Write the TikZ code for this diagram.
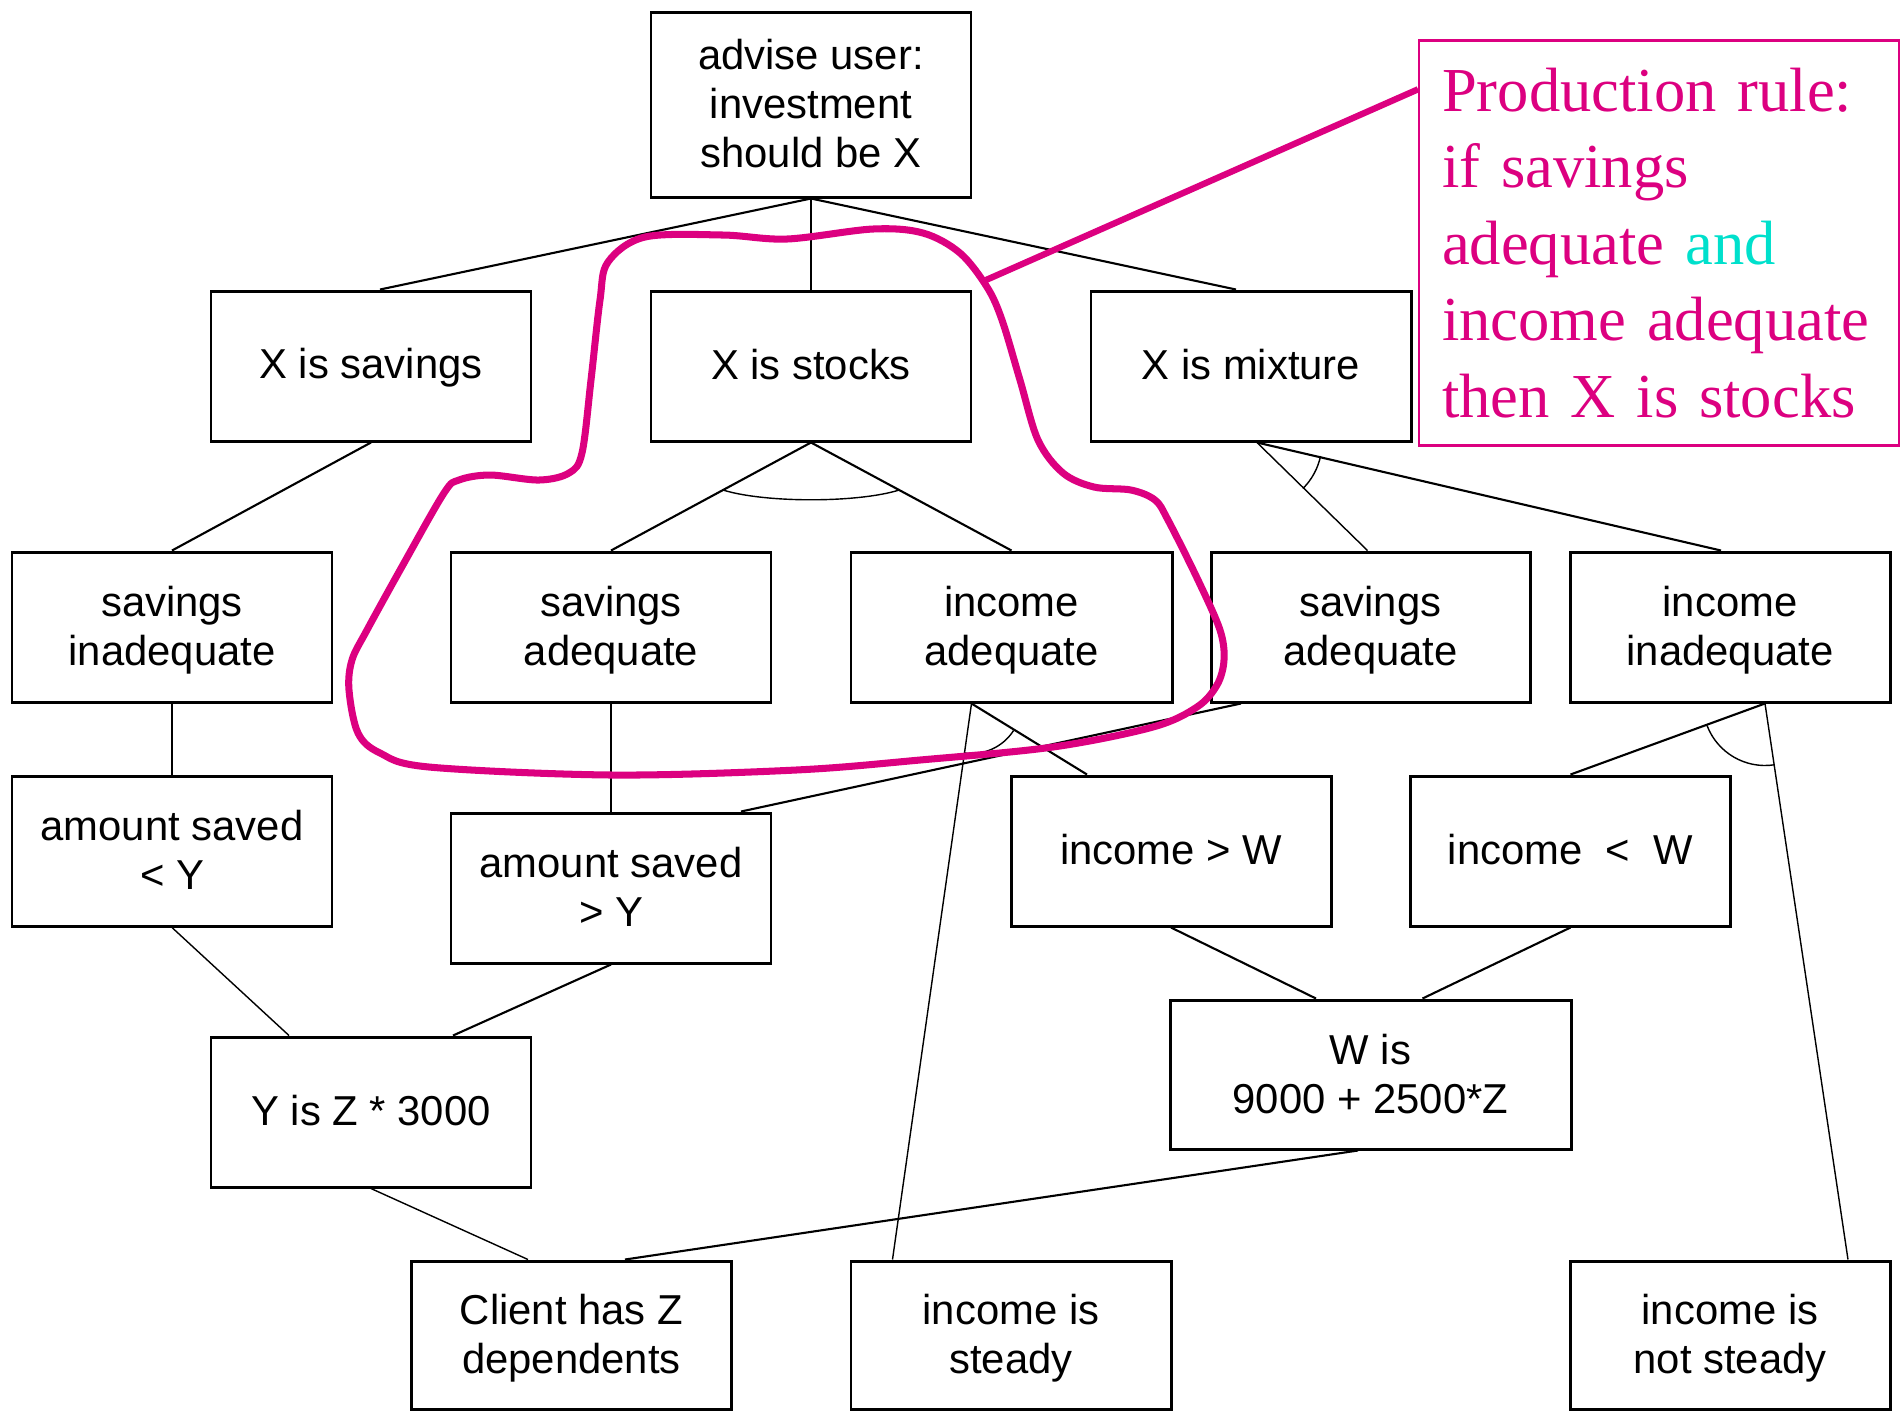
\documentclass[tikz,border=0pt]{standalone}
\usepackage{fontspec}
\setmainfont{Liberation Sans}
\newfontfamily\rulefont{Liberation Serif}
\usetikzlibrary{calc}
\definecolor{lasso}{RGB}{220,0,128}
\definecolor{andcol}{RGB}{0,224,204}
\newcommand{\topstrut}{\rule{0pt}{10.5pt}}
\begin{document}
\begin{tikzpicture}[
  box/.style={draw, line width=0.85pt, minimum width=3.2cm, minimum height=1.5cm,
    inner sep=0pt, align=center, font=\fontsize{11.9}{14}\selectfont,
    execute at begin node={\rule{0pt}{9.8pt}},
    execute at end node={\rule[-2.4pt]{0pt}{0pt}}},
  conn/.style={line width=0.6pt},
  thinconn/.style={line width=0.4pt},
  lassoline/.style={draw=lasso, line width=2pt},
]
\fill[white] (0,0) rectangle (19.04,-14.10);
\useasboundingbox (0,0) rectangle (19.04,-14.10);

% nodes
\node[box, minimum height=1.85cm] (adv) at (8.11,-1.045) {\topstrut advise user:\\investment\\should be X};
\node[box] (xsav) at (3.71,-3.66) {X is savings};
\node[box] (xsto) at (8.11,-3.66) {X is stocks};
\node[box] (xmix) at (12.51,-3.66) {X is mixture};
\node[box] (sinad) at (1.72,-6.27) {\topstrut savings\\inadequate};
\node[box] (sad1) at (6.11,-6.27) {\topstrut savings\\adequate};
\node[box, minimum width=3.21cm] (iad) at (10.115,-6.27) {\topstrut income\\adequate};
\node[box, minimum width=3.19cm] (sad2) at (13.705,-6.27) {\topstrut savings\\adequate};
\node[box] (iinad) at (17.30,-6.27) {\topstrut income\\inadequate};
\node[box] (amlt) at (1.72,-8.51) {\topstrut amount saved\\< Y};
\node[box] (amgt) at (6.11,-8.88) {\topstrut amount saved\\> Y};
\node[box] (igt) at (11.71,-8.51) {income > W};
\node[box] (ilt) at (15.705,-8.51) {income\ \ <\ \ W};
\node[box, minimum width=4.01cm, minimum height=1.49cm] (wis) at (13.705,-10.745) {\topstrut W is\\9000 + 2500*Z};
\node[box] (yis) at (3.71,-11.12) {Y is Z * 3000};
\node[box, minimum height=1.48cm] (cli) at (5.715,-13.35) {\topstrut Client has Z\\dependents};
\node[box, minimum height=1.48cm] (ist) at (10.11,-13.35) {\topstrut income is\\steady};
\node[box, minimum height=1.48cm] (inst) at (17.30,-13.35) {\topstrut income is\\not steady};

\node[draw=lasso, line width=0.65pt, minimum width=4.8cm, minimum height=4.05cm,
  text width=4.34cm, align=left, inner sep=0pt, anchor=north west, text=lasso,
  font=\rulefont\fontsize{17.8}{21.8}\selectfont] (rule) at (14.18,-0.393)
  {Production rule:\\if savings\\adequate \textcolor{andcol}{and}\\income adequate\\then X is stocks};

% connectors
\draw[conn] (adv.south) -- ($(xsav.north)+(0.09,0)$);
\draw[conn] (adv.south) -- (xsto.north);
\draw[conn] (adv.south) -- ($(xmix.north)+(-0.15,0)$);
\draw[conn] (xsav.south) -- (sinad.north);
\draw[conn] (xsto.south) -- (sad1.north);
\draw[conn] (xsto.south) -- (iad.north);
\coordinate (sa1) at ($(xsto.south)!0.44!(sad1.north)$);
\coordinate (sa2) at ($(xsto.south)!0.44!(iad.north)$);
\draw[thinconn] (sa1) .. controls +(0.42,-0.13) and +(-0.42,-0.13) .. (sa2);

\coordinate (mixa) at ($(xmix.south)+(0.06,0)$);
\draw[thinconn] (mixa) -- ($(sad2.north)+(-0.03,0)$);
\draw[conn] (mixa) -- ($(iinad.north)+(-0.09,0)$);
\draw[thinconn] ([shift={(-45:0.65)}]mixa) arc[start angle=-45, end angle=-12, radius=0.65];

\draw[conn] (sinad.south) -- (amlt.north);
\draw[conn] (sad1.south) -- (amgt.north);

\coordinate (iada) at ($(iad.south)+(-0.4,0)$);
\draw[thinconn] (iada) -- ($(ist.north)+(-1.185,0)$);
\draw[conn] (iada) -- ($(igt.north)+(-0.84,0)$);
\draw[thinconn] ([shift={(-98.1:0.5)}]iada) arc[start angle=-98.1, end angle=-32.7, radius=0.5];

\draw[conn] ($(sad2.south)+(-1.295,0)$) -- ($(amgt.north)+(1.3,0)$);

\coordinate (iina) at ($(iinad.south)+(0.35,0)$);
\draw[conn] (iina) -- (ilt.north);
\draw[thinconn] (iina) -- ($(inst.north)+(1.18,0)$);
\draw[thinconn] ([shift={(-159.2:0.62)}]iina) arc[start angle=-159.2, end angle=-81.5, radius=0.62];

\draw[thinconn] (amlt.south) -- ($(yis.north)+(-0.82,0)$);
\draw[conn] (amgt.south) -- ($(yis.north)+(0.82,0)$);
\draw[conn] (igt.south) -- ($(wis.north)+(-0.545,0)$);
\draw[conn] (ilt.south) -- ($(wis.north)+(0.52,0)$);
\draw[thinconn] (yis.south) -- ($(cli.north)+(-0.435,0)$);
\draw[conn] ($(wis.south)+(-0.125,0)$) -- ($(cli.north)+(0.535,0)$);

% lasso around the rule's nodes
\draw[lassoline] plot[smooth cycle, tension=0.55] coordinates {
 (6.45,-2.37) (7.23,-2.35) (7.87,-2.39) (8.73,-2.29) (9.23,-2.33) (9.60,-2.53)
 (9.87,-2.87) (10.02,-3.20) (10.20,-3.80) (10.38,-4.40) (10.63,-4.73) (10.94,-4.87)
 (11.31,-4.90) (11.55,-5.00) (11.68,-5.20) (11.98,-5.80) (12.20,-6.30) (12.24,-6.60)
 (12.17,-6.85) (11.97,-7.07) (11.53,-7.27) (10.53,-7.47) (9.20,-7.60) (7.96,-7.70)
 (6.12,-7.75) (4.29,-7.67) (3.80,-7.53) (3.58,-7.33) (3.49,-6.90) (3.52,-6.60)
 (3.67,-6.30) (4.04,-5.63) (4.44,-4.93) (4.59,-4.80) (4.90,-4.75) (5.39,-4.80)
 (5.69,-4.73) (5.82,-4.53) (5.91,-3.80) (6.00,-3.00) (6.08,-2.62)};
\coordinate (lassoR) at (9.86,-2.80);
\draw[draw=lasso, line width=1.8pt] ($(rule.north west)+(0,-0.5)$) -- (lassoR);
\end{tikzpicture}
\end{document}
